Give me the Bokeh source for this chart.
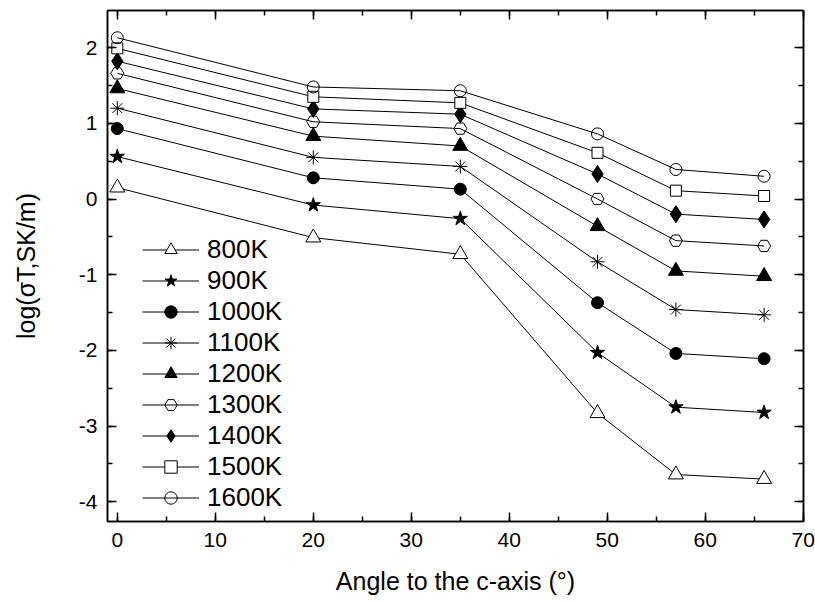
import numpy as np
from bokeh.plotting import figure
from bokeh.models import Range1d, LinearAxis, SingleIntervalTicker, Legend, CustomLabelingPolicy
from bokeh.embed import file_html
from bokeh.resources import INLINE

angles = [0, 20, 35, 49, 57, 66]
temps = ["800K", "900K", "1000K", "1100K", "1200K", "1300K", "1400K", "1500K", "1600K"]
s800 = [0.15, -0.51, -0.73, -2.83, -3.64, -3.70]
s900 = [0.56, -0.08, -0.26, -2.03, -2.75, -2.82]
s1000 = [0.93, 0.28, 0.13, -1.37, -2.04, -2.11]
s1100 = [1.20, 0.55, 0.43, -0.83, -1.46, -1.53]
s1200 = [1.46, 0.83, 0.70, -0.36, -0.95, -1.02]
s1300 = [1.66, 1.02, 0.93, 0.00, -0.55, -0.62]
s1400 = [1.82, 1.19, 1.12, 0.33, -0.20, -0.27]
s1500 = [1.99, 1.35, 1.27, 0.61, 0.11, 0.04]
s1600 = [2.13, 1.48, 1.43, 0.86, 0.39, 0.30]
series = [s800, s900, s1000, s1100, s1200, s1300, s1400, s1500, s1600]
y_tick_values = [-4, -3, -2, -1, 0, 1, 2]
y_tick_labels = ["-4", "-3", "-2", "-1", "0", "1", "2"]

# marker styles: (marker, size, fill color, fill alpha, angle)
styles = [
    ("triangle", 15, "white", 1.0, 0.0),
    ("star", 15, "black", 1.0, 0.0),
    ("circle", 12, "black", 1.0, 0.0),
    ("asterisk", 14, "black", 1.0, 0.0),
    ("triangle", 15, "black", 1.0, 0.0),
    ("hex", 13, "white", 0.0, 0.0),
    ("diamond", 17, "black", 1.0, 0.0),
    ("square", 11, "white", 1.0, 0.0),
    ("circle", 12, "white", 0.0, 0.0),
]

FONT = "Liberation Sans"

p = figure(width=815, height=603, output_backend="svg", toolbar_location=None,
           x_range=Range1d(-1, 70.02), y_range=Range1d(-4.26, 2.49),
           min_border_left=107, min_border_right=12, min_border_top=10, min_border_bottom=82)
p.background_fill_color = "white"
p.border_fill_color = "white"
p.outline_line_color = "black"
p.outline_line_width = 1.5
p.xgrid.visible = False
p.ygrid.visible = False

no_labels = CustomLabelingPolicy(code="""
const all = indices.ones ? [...indices.ones()] : [...indices];
for (const i of all) {
    if (indices.unset) { indices.unset(i) } else { indices.set(i, false) }
}
return indices;
""")

def style_axis(ax, ticker, show_labels=True):
    ax.ticker = ticker
    ax.axis_line_color = "black"
    ax.axis_line_width = 1.5
    ax.major_tick_in = 9
    ax.major_tick_out = 0
    ax.minor_tick_in = 5
    ax.minor_tick_out = 0
    ax.major_tick_line_color = "black"
    ax.minor_tick_line_color = "black"
    ax.major_tick_line_width = 1.5
    ax.minor_tick_line_width = 1.5
    ax.major_label_text_font = FONT
    ax.major_label_text_color = "black"
    ax.major_label_text_font_size = "21px"
    if not show_labels:
        ax.major_label_policy = no_labels
        ax.major_label_standoff = 0
        ax.major_label_text_font_size = "1px"

xt = SingleIntervalTicker(interval=10, num_minor_ticks=2)
yt = SingleIntervalTicker(interval=1, num_minor_ticks=2)

style_axis(p.xaxis[0], xt)
style_axis(p.yaxis[0], yt)
p.xaxis[0].major_label_standoff = 11
p.yaxis[0].major_label_standoff = 10
p.yaxis[0].major_label_overrides = {v: s for v, s in zip(y_tick_values, y_tick_labels)}

p.xaxis[0].axis_label = "Angle to the c-axis (\u00b0)"
p.yaxis[0].axis_label = "log(\u03c3T,SK/m)"
for ax in (p.xaxis[0], p.yaxis[0]):
    ax.axis_label_text_font = FONT
    ax.axis_label_text_font_size = "25px"
    ax.axis_label_text_font_style = "normal"
    ax.axis_label_text_color = "black"
p.xaxis[0].axis_label_standoff = 17
p.yaxis[0].axis_label_standoff = 36

top_ax = LinearAxis()
style_axis(top_ax, SingleIntervalTicker(interval=10, num_minor_ticks=2), show_labels=False)
p.add_layout(top_ax, "above")
right_ax = LinearAxis()
style_axis(right_ax, SingleIntervalTicker(interval=1, num_minor_ticks=2), show_labels=False)
p.add_layout(right_ax, "right")

items = []
for name, ys, (mk, sz, fc, fa, ang) in zip(temps, series, styles):
    r1 = p.line(angles, ys, line_color="black", line_width=1)
    r2 = p.scatter(angles, ys, marker=mk, size=sz, line_color="black", line_width=1,
                   fill_color=fc, fill_alpha=fa, angle=ang)
    items.append((name, [r1, r2]))

legend = Legend(items=items, location=(35, 8))
legend.background_fill_alpha = 0
legend.border_line_color = None
legend.label_text_font = FONT
legend.label_text_font_size = "26px"
legend.label_text_color = "black"
legend.glyph_width = 57
legend.glyph_height = 31
legend.label_height = 31
legend.label_standoff = 8
legend.padding = 0
legend.margin = 0
legend.spacing = 0
p.add_layout(legend, "center")

open("out.html", "w").write(file_html(p, INLINE))
